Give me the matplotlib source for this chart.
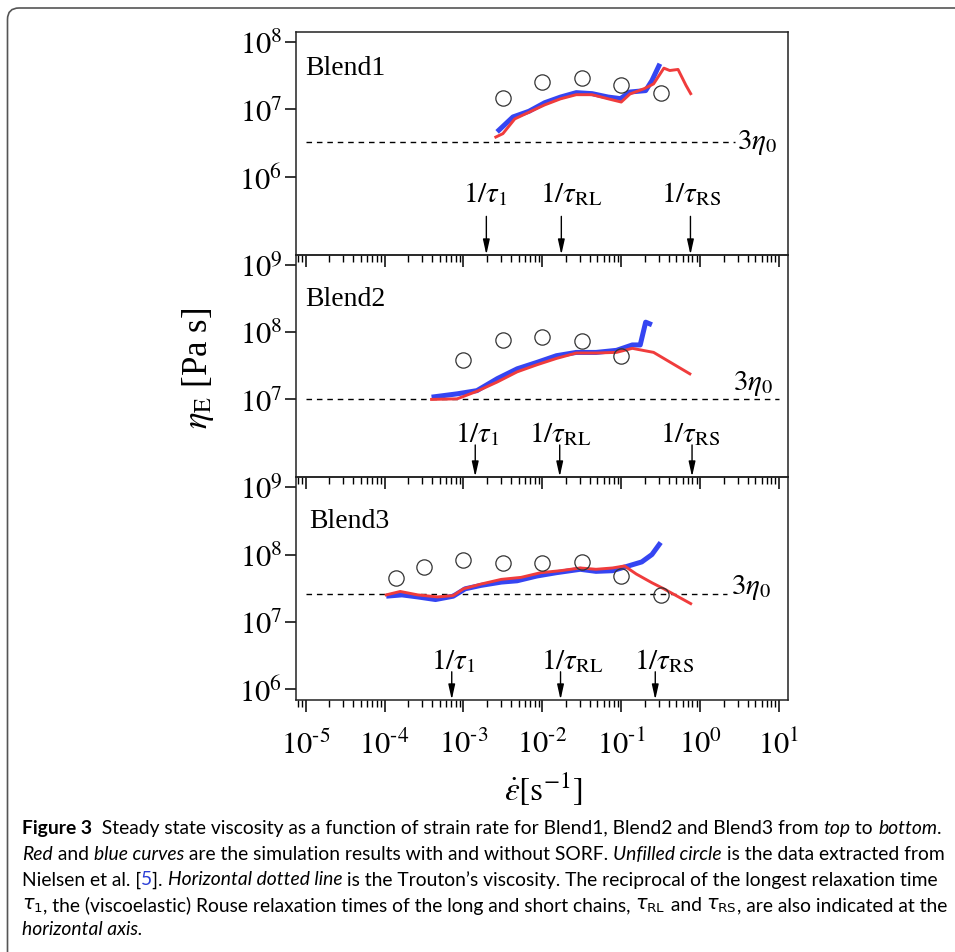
import numpy as np
import matplotlib
matplotlib.use("Agg")
import matplotlib.pyplot as plt
from matplotlib.patches import FancyBboxPatch

plt.rcParams['font.family'] = ['Liberation Serif', 'DejaVu Serif']
plt.rcParams['mathtext.fontset'] = 'stix'

# ---- data ----
# Blend1
b1_blue_x = [2.67e-3, 4.24e-3, 6.76e-3, 0.0107, 0.0170, 0.0269, 0.0427, 0.0684, 0.0977, 0.129, 0.204, 0.245, 0.309]
b1_blue_y = [4.65e6, 7.74e6, 9.4e6, 1.26e7, 1.53e7, 1.78e7, 1.72e7, 1.53e7, 1.45e7, 1.82e7, 1.91e7, 2.69e7, 4.79e7]
b1_red_x = [2.57e-3, 3.16e-3, 4.47e-3, 6.76e-3, 0.0107, 0.0170, 0.0269, 0.0427, 0.0684, 0.100, 0.129, 0.195,
            0.257, 0.347, 0.412, 0.525, 0.661, 0.759]
b1_red_y = [3.89e6, 4.37e6, 7.24e6, 9.1e6, 1.17e7, 1.44e7, 1.66e7, 1.66e7, 1.44e7, 1.29e7, 1.70e7, 2.04e7,
            2.40e7, 4.12e7, 3.80e7, 3.94e7, 2.29e7, 1.72e7]
b1_circ_x = [3.16e-3, 0.01, 0.0316, 0.1, 0.316]
b1_circ_y = [1.5e7, 2.57e7, 2.95e7, 2.35e7, 1.78e7]

# Blend2
b2_blue_x = [3.94e-4, 8.32e-4, 1.48e-3, 2.69e-3, 4.79e-3, 8.51e-3, 0.0151, 0.0269, 0.0479, 0.0871, 0.138, 0.174, 0.204, 0.245]
b2_blue_y = [1.08e7, 1.21e7, 1.35e7, 2.04e7, 2.85e7, 3.55e7, 4.47e7, 5.0e7, 5.0e7, 5.37e7, 6.46e7, 6.46e7, 1.41e8, 1.29e8]
b2_red_x = [3.94e-4, 8.32e-4, 1.48e-3, 2.69e-3, 4.79e-3, 8.51e-3, 0.0151, 0.0269, 0.0479, 0.0871, 0.138, 0.257, 0.741]
b2_red_y = [1.0e7, 1.02e7, 1.32e7, 1.82e7, 2.57e7, 3.27e7, 4.07e7, 4.9e7, 4.9e7, 5.01e7, 5.75e7, 5.01e7, 2.40e7]
b2_circ_x = [1e-3, 3.16e-3, 0.01, 0.0316, 0.1]
b2_circ_y = [3.9e7, 7.7e7, 8.4e7, 7.5e7, 4.5e7]

# Blend3
b3_blue_x = [1.05e-4, 1.66e-4, 2.63e-4, 4.42e-4, 7.41e-4, 1.05e-3, 1.66e-3, 3.02e-3, 4.79e-3, 8.51e-3, 0.0151,
             0.0302, 0.0479, 0.0776, 0.123, 0.182, 0.245, 0.316]
b3_blue_y = [2.40e7, 2.51e7, 2.34e7, 2.14e7, 2.40e7, 3.09e7, 3.47e7, 3.89e7, 4.07e7, 4.79e7, 5.37e7,
             6.03e7, 5.62e7, 5.75e7, 6.76e7, 7.76e7, 1.0e8, 1.51e8]
b3_red_x = [1.05e-4, 1.58e-4, 2.63e-4, 4.68e-4, 7.41e-4, 1.0e-3, 1.66e-3, 3.02e-3, 5.37e-3, 9.55e-3, 0.0170,
            0.0302, 0.0479, 0.0776, 0.110, 0.155, 0.245, 0.347, 0.759]
b3_red_y = [2.51e7, 2.82e7, 2.51e7, 2.34e7, 2.45e7, 3.09e7, 3.63e7, 4.27e7, 4.57e7, 5.37e7, 5.75e7,
            6.31e7, 6.03e7, 6.31e7, 6.76e7, 5.13e7, 3.80e7, 3.09e7, 1.86e7]
b3_circ_x = [1.41e-4, 3.16e-4, 1e-3, 3.16e-3, 0.01, 0.0316, 0.1, 0.316]
b3_circ_y = [4.47e7, 6.6e7, 8.4e7, 7.5e7, 7.5e7, 7.7e7, 4.8e7, 2.5e7]

trouton = [3.3e6, 1.0e7, 2.57e7]
trouton_end = [2.8, 10.0, 2.2]
trouton_lab_x = [2.9, 2.6, 2.45]
trouton_lab_y = [3.3e6, 1.8e7, 3.3e7]

blend_names = ["Blend1", "Blend2", "Blend3"]
blend_lab_x = [1.0e-5, 1.0e-5, 1.12e-5]
blend_lab_y = [4.2e7, 3.2e8, 3.2e8]

arrow_names = [r'$1/\tau_1$', r'$1/\tau_{\mathrm{RL}}$', r'$1/\tau_{\mathrm{RS}}$']
arrow_x = [[1.95e-3, 0.0174, 0.754], [1.41e-3, 0.0166, 0.79], [7.1e-4, 0.017, 0.27]]
arrow_top = [2.57e5, 2.1e6, 1.8e6]
arrow_lab_x = [[1.88e-3, 0.0229, 0.776], [1.48e-3, 0.0170, 0.741], [7.4e-4, 0.024, 0.347]]
arrow_lab_y = [5.6e5, 3.2e6, 2.7e6]

ylims = [(10**4.84, 10**8.16), (10**5.85, 10**9.153), (10**5.84, 10**9.158)]
yticks = [[1e6, 1e7, 1e8], [1e7, 1e8, 1e9], [1e6, 1e7, 1e8, 1e9]]
xticks = [1e-5, 1e-4, 1e-3, 1e-2, 1e-1, 1e0, 1e1]

series = [
    (b1_blue_x, b1_blue_y, b1_red_x, b1_red_y, b1_circ_x, b1_circ_y),
    (b2_blue_x, b2_blue_y, b2_red_x, b2_red_y, b2_circ_x, b2_circ_y),
    (b3_blue_x, b3_blue_y, b3_red_x, b3_red_y, b3_circ_x, b3_circ_y),
]


def pow_label(v):
    e = int(round(np.log10(v)))
    s = str(e).replace('-', '\u2010')
    return r'$10^{%s}$' % s


W, H = 955, 953
fig = plt.figure(figsize=(W / 100, H / 100), dpi=100)

left, right = 296 / W, 788 / W
tops = [32.5, 255.7, 477.7]
bottoms = [255.7, 477.7, 700.7]

fs = 20
tfs = 22
for i in range(3):
    ax = fig.add_axes([left, 1 - bottoms[i] / H, right - left, (bottoms[i] - tops[i]) / H])
    ax.set_facecolor('none')
    bx, by, rx, ry, cx, cy = series[i]
    ax.plot(bx, by, color='#3545f2', lw=3.6, solid_capstyle='butt', zorder=3)
    ax.plot(rx, ry, color='#f03c3c', lw=2.1, zorder=4)
    ax.plot(cx, cy, 'o', mfc='none', mec='#333333', mew=0.9, ms=11, zorder=5)
    ax.plot([1e-5, trouton_end[i]], [trouton[i], trouton[i]], color='k', lw=1.0,
            dashes=(4, 3.5), zorder=2)
    ax.text(trouton_lab_x[i], trouton_lab_y[i], r'$3\eta_0$', fontsize=21, ha='left', va='center')
    ax.text(blend_lab_x[i], blend_lab_y[i], blend_names[i], fontsize=fs, ha='left', va='center')

    ax.set_xscale('log')
    ax.set_yscale('log')
    ax.set_xlim(10**-5.123, 10**1.114)
    ax.set_ylim(*ylims[i])

    for k in range(3):
        ax.annotate('', xy=(arrow_x[i][k], ylims[i][0]), xytext=(arrow_x[i][k], arrow_top[i]),
                    arrowprops=dict(arrowstyle='-|>,head_width=0.2,head_length=0.9',
                                    color='k', lw=1.0, shrinkA=0, shrinkB=0))
        ax.text(arrow_lab_x[i][k], arrow_lab_y[i], arrow_names[k], fontsize=21,
                ha='center', va='center')

    ax.set_yticks(yticks[i])
    ax.set_yticklabels([pow_label(v) for v in yticks[i]])
    ax.yaxis.set_minor_locator(matplotlib.ticker.NullLocator())
    ax.set_xticks(xticks)
    ax.xaxis.set_minor_locator(matplotlib.ticker.LogLocator(base=10, subs=np.arange(2, 10), numticks=20))
    if i == 2:
        ax.set_xticklabels([pow_label(v) for v in xticks])
    else:
        ax.set_xticklabels([])
    ax.tick_params(axis='x', which='major', direction='out', length=8.6, width=1.1,
                   labelsize=tfs, pad=13)
    ax.tick_params(axis='x', which='minor', direction='out', length=5, width=1.0)
    ax.tick_params(axis='y', which='major', direction='out', length=7.7, width=1.1,
                   labelsize=tfs, pad=2)
    for sp in ax.spines.values():
        sp.set_linewidth(1.1)
        sp.set_color('#222222')

fig.text(198 / W, 1 - 368 / H, r'$\eta_{\mathrm{E}}$ [Pa s]', fontsize=25, rotation=90,
         ha='center', va='center')
fig.text(543 / W, 1 - 790 / H, r'$\dot{\varepsilon}[\mathrm{s}^{-1}]$', fontsize=24,
         ha='center', va='center')

# border of the figure box
fig.patches.append(FancyBboxPatch((7.5 / W, -0.05), 1.2, 1 - 9 / H + 0.05,
                                  boxstyle='round,pad=0,rounding_size=0.012',
                                  transform=fig.transFigure, fill=False,
                                  ec='#555555', lw=1.2, figure=fig))

# ---- caption ----
cap_font = ['Lato', 'DejaVu Sans']
caption = [
    [("Figure 3", 'bold', 'k'),
     ("  Steady state viscosity as a function of strain rate for Blend1, Blend2 and Blend3 from ", 'normal', 'k'),
     ("top", 'italic', 'k'), (" to ", 'normal', 'k'), ("bottom", 'italic', 'k'), (".", 'normal', 'k')],
    [("Red", 'italic', 'k'), (" and ", 'normal', 'k'), ("blue curves", 'italic', 'k'),
     (" are the simulation results with and without SORF. ", 'normal', 'k'),
     ("Unfilled circle", 'italic', 'k'), (" is the data extracted from", 'normal', 'k')],
    [("Nielsen et al. [", 'normal', 'k'), ("5", 'normal', '#2b3fd6'), ("]. ", 'normal', 'k'),
     ("Horizontal dotted line", 'italic', 'k'),
     (" is the Trouton\u2019s viscosity. The reciprocal of the longest relaxation time", 'normal', 'k')],
    [(r'$\tau_1$', 'math', 'k'),
     (", the (viscoelastic) Rouse relaxation times of the long and short chains, ", 'normal', 'k'),
     (r'$\tau_{\mathrm{RL}}$', 'math', 'k'), (" and ", 'normal', 'k'),
     (r'$\tau_{\mathrm{RS}}$', 'math', 'k'), (", are also indicated at the", 'normal', 'k')],
    [("horizontal axis.", 'italic', 'k')],
]
cap_y = [829, 855, 880, 906, 930]

renderer = fig.canvas.get_renderer()


def make(x, y, s, style, color, size):
    kw = dict(fontsize=size, color=color, ha='left', va='center', transform=None)
    if style == 'math':
        t = fig.text(x, y, s, math_fontfamily='dejavusans', family=cap_font, **kw)
    else:
        t = fig.text(x, y, s, family=cap_font,
                     fontweight='bold' if style == 'bold' else 'normal',
                     fontstyle='italic' if style == 'italic' else 'normal', **kw)
    return t


def advance(s, style, size):
    if style == 'math':
        t = make(0, 0, s, style, 'k', size)
        w = t.get_window_extent(renderer).width
        t.remove()
        return w
    t1 = make(0, 0, "|" + s + "|", style, 'k', size)
    t2 = make(0, 0, "||", style, 'k', size)
    w = t1.get_window_extent(renderer).width - t2.get_window_extent(renderer).width
    t1.remove()
    t2.remove()
    return w


cap_size = 10.0
line1_w = sum(advance(s, st, cap_size) for s, st, c in caption[0])
cap_size = cap_size * 922 / line1_w

for line, yy in zip(caption, cap_y):
    x = 22
    for s, st, c in line:
        make(x, H - yy, s, st, c, cap_size)
        x += advance(s, st, cap_size)

fig.savefig('out.png', dpi=100)
